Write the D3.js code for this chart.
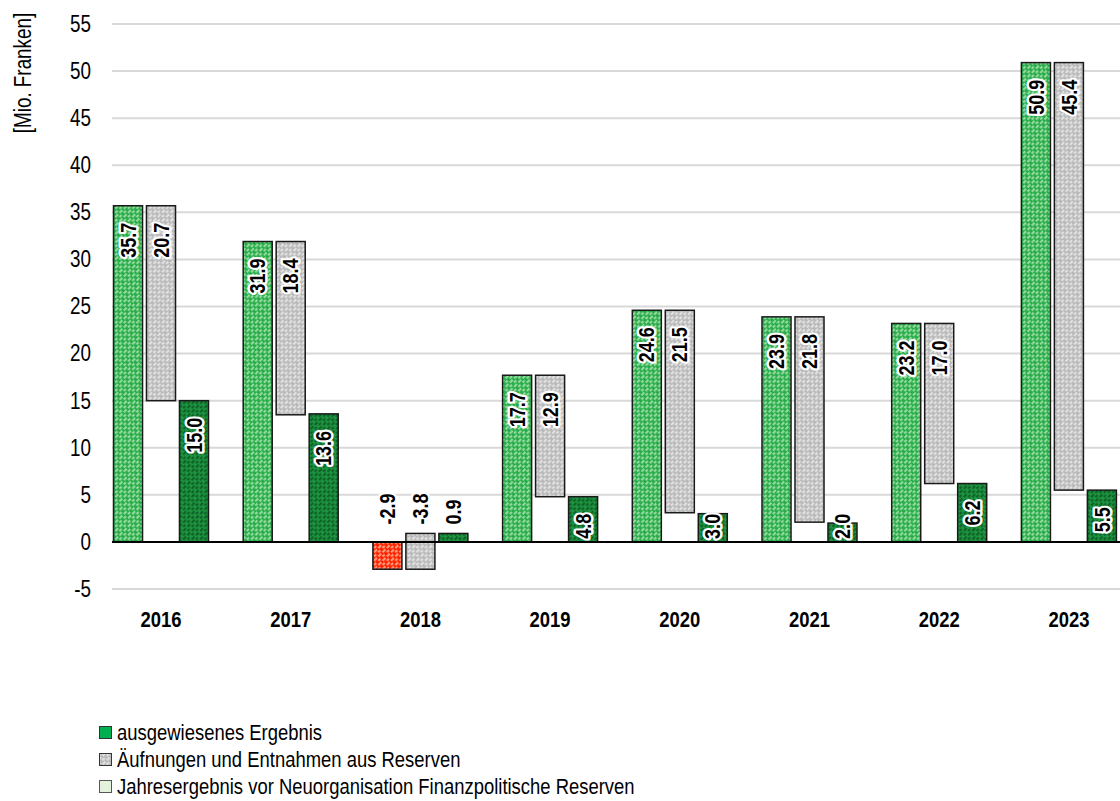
<!DOCTYPE html>
<html>
<head>
<meta charset="utf-8">
<script src="https://cdn.jsdelivr.net/npm/d3@7"></script>
<style>
  html, body { margin: 0; padding: 0; background: #fff; }
  svg { display: block; font-family: "Liberation Sans", Arial, sans-serif; }
</style>
</head>
<body>
<svg id="chart" width="1120" height="801"></svg>
<script>
// Jahre
const years = ["2016", "2017", "2018", "2019", "2020", "2021", "2022", "2023"];
// Jahresergebnis vor Neuorganisation Finanzpolitische Reserven
const vorNeuorganisation = [35.7, 31.9, -2.9, 17.7, 24.6, 23.9, 23.2, 50.9];
// Äufnungen und Entnahmen aus Reserven
const reserven = [20.7, 18.4, -3.8, 12.9, 21.5, 21.8, 17.0, 45.4];
// ausgewiesenes Ergebnis
const ausgewiesen = [15.0, 13.6, 0.9, 4.8, 3.0, 2.0, 6.2, 5.5];
// y-Achse
const yTicks = [-5, 0, 5, 10, 15, 20, 25, 30, 35, 40, 45, 50, 55];
// Jahre mit Beschriftung oberhalb der Säulen
const labelsAbove = ["2018"];
const legendLabels = [
  "ausgewiesenes Ergebnis",
  "Äufnungen und Entnahmen aus Reserven",
  "Jahresergebnis vor Neuorganisation Finanzpolitische Reserven"
];

// condensed look of the lettering
const NARROW = 0.82;

const svg = d3.select("#chart");
const defs = svg.append("defs");

// diagonal textures for the bars
function texture(id, base, stripe) {
  const p = defs.append("pattern")
    .attr("id", id)
    .attr("patternUnits", "userSpaceOnUse")
    .attr("width", 6).attr("height", 6)
    .attr("patternTransform", "rotate(-45)");
  p.append("rect").attr("width", 6).attr("height", 6).attr("fill", base);
  p.append("rect").attr("x", 0).attr("y", 0).attr("width", 4).attr("height", 2.2).attr("fill", stripe);
  p.append("rect").attr("x", 3).attr("y", 3).attr("width", 4).attr("height", 2.2).attr("fill", stripe);
}
texture("patLight", "#27ad4a", "#93d89c");
texture("patDark", "#1d9440", "#0f6328");
texture("patGray", "#b9b9b9", "#e0e0e0");
texture("patRed", "#ff2200", "#ff9a7a");

const y = d3.scaleLinear().domain([-5, 55]).range([589, 24]);
const x = d3.scaleBand().domain(years).range([96.15, 1133.75]).padding(0);
const sub = d3.scaleBand().domain(["light", "gray", "dark"]).range([-47.5, 47.5]).paddingInner(0.12);

const gridLeft = 112, gridRight = 1120;
const num = v => String(v).replace("\u2212", "-");

// gridlines
svg.append("g").selectAll("line").data(yTicks.filter(d => d !== 0)).join("line")
  .attr("x1", gridLeft).attr("x2", gridRight)
  .attr("y1", d => y(d)).attr("y2", d => y(d))
  .attr("stroke", "#d9d9d9").attr("stroke-width", 2);

// y tick labels
const yAxis = d3.axisLeft(y).tickValues(yTicks).tickSize(0).tickPadding(0).tickFormat(d => num(d));
const yg = svg.append("g").attr("transform", "translate(91,0)").call(yAxis);
yg.select(".domain").remove();
yg.attr("font-family", null).attr("font-size", null);
yg.selectAll("text").attr("font-size", 23).attr("fill", "#000")
  .attr("transform", `scale(${NARROW},1)`);

// y title
svg.append("text")
  .attr("transform", `translate(31,73) rotate(-90) scale(${NARROW},1)`)
  .attr("text-anchor", "middle")
  .attr("font-size", 23)
  .text("[Mio. Franken]");

// bar records
const bars = [];
years.forEach((yr, i) => {
  const cx = x(yr) + x.bandwidth() / 2;
  const a = vorNeuorganisation[i], r = reserven[i], e = ausgewiesen[i];
  bars.push({ year: yr, key: "light", cx, v0: 0, v1: a, label: a, fill: a < 0 ? "url(#patRed)" : "url(#patLight)" });
  bars.push({ year: yr, key: "gray", cx, v0: a, v1: a - r, label: r, fill: "url(#patGray)" });
  bars.push({ year: yr, key: "dark", cx, v0: 0, v1: e, label: e, fill: "url(#patDark)" });
});

svg.append("g").selectAll("rect").data(bars).join("rect")
  .attr("x", d => d.cx + sub(d.key))
  .attr("width", sub.bandwidth())
  .attr("y", d => y(Math.max(d.v0, d.v1)))
  .attr("height", d => Math.abs(y(d.v0) - y(d.v1)))
  .attr("fill", d => d.fill)
  .attr("stroke", "#1a1a1a").attr("stroke-width", 1.5);

// zero line
svg.append("line")
  .attr("x1", gridLeft).attr("x2", gridRight)
  .attr("y1", y(0)).attr("y2", y(0))
  .attr("stroke", "#000").attr("stroke-width", 2);

// value labels
const fmt = v => num(d3.format(".1f")(v));
const labelG = svg.append("g");
bars.forEach(d => {
  const t = labelG.append("text")
    .attr("font-size", 22).attr("font-weight", "bold")
    .attr("fill", "#000")
    .attr("stroke", "#fff").attr("stroke-width", 5).attr("stroke-linejoin", "round")
    .attr("paint-order", "stroke")
    .text(fmt(d.label));
  const len = t.node().getComputedTextLength() * NARROW;
  const bx = d.cx + sub(d.key) + sub.bandwidth() / 2;
  let endY;
  if (labelsAbove.includes(d.year)) {
    const i = years.indexOf(d.year);
    const groupTop = y(Math.max(0, vorNeuorganisation[i], ausgewiesen[i], vorNeuorganisation[i] - reserven[i]));
    endY = groupTop - 9 - len;
  } else {
    const top = y(Math.max(d.v0, d.v1));
    const bottom = y(Math.min(d.v0, d.v1));
    endY = Math.min(top + 17, bottom - 3 - len);
  }
  t.attr("text-anchor", "end")
    .attr("dominant-baseline", "central")
    .attr("transform", `translate(${bx},${endY}) rotate(-90) scale(${NARROW},1)`);
});

// year labels
svg.append("g").selectAll("text").data(years).join("text")
  .attr("transform", d => `translate(${x(d) + x.bandwidth() / 2},627) scale(${NARROW},1)`)
  .attr("text-anchor", "middle")
  .attr("font-size", 22.5).attr("font-weight", "bold")
  .text(d => d);

// legend
const swatches = [
  { fill: "#00b050", stroke: "#333" },
  { fill: "url(#patGray)", stroke: "#333" },
  { fill: "#e4f1dc", stroke: "#555" }
];
const lg = svg.append("g");
legendLabels.forEach((lab, i) => {
  const base = 740 + i * 27;
  lg.append("rect").attr("x", 99.5).attr("y", base - 13.5).attr("width", 12).attr("height", 12)
    .attr("fill", swatches[i].fill).attr("stroke", swatches[i].stroke).attr("stroke-width", 1);
  lg.append("text").attr("transform", `translate(117,${base}) scale(${NARROW},1)`)
    .attr("font-size", 22.5).text(lab);
});
</script>
</body>
</html>
